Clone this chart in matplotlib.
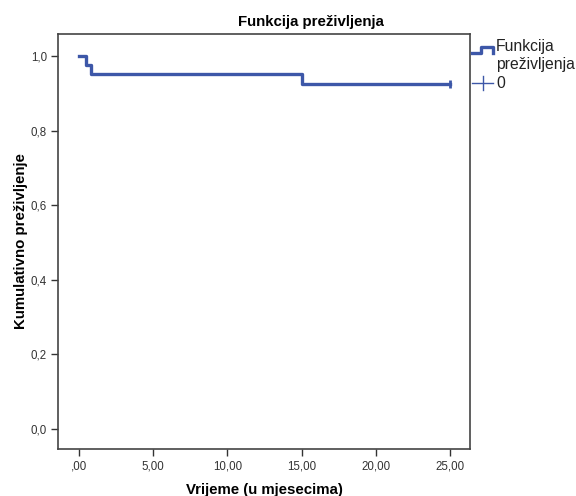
import matplotlib
matplotlib.use('Agg')
import matplotlib.pyplot as plt

plt.rcParams['font.family'] = ['Liberation Sans', 'DejaVu Sans']

# Kaplan-Meier step data
times = [0.0, 0.5, 0.8, 15.0, 25.0]
surv = [1.0, 0.976, 0.952, 0.926, 0.926]
censor_t = [25.0]
censor_s = [0.926]

xticks = [0, 5, 10, 15, 20, 25]
xtick_labels = [',00', '5,00', '10,00', '15,00', '20,00', '25,00']
yticks = [0.0, 0.2, 0.4, 0.6, 0.8, 1.0]
ytick_labels = ['0,0', '0,2', '0,4', '0,6', '0,8', '1,0']

blue = '#3d57a8'

fig = plt.figure(figsize=(5.76, 4.96), dpi=100)
ax = fig.add_axes([58 / 576, 1 - 449 / 496, 412 / 576, 415 / 496])

ax.step(times, surv, where='post', color=blue, linewidth=2.4)
ax.plot(censor_t, censor_s, marker='|', markersize=6, mew=2, color=blue, linestyle='none')

ax.set_xlim(-1.42, 26.35)
ax.set_ylim(-0.054, 1.059)
ax.set_xticks(xticks)
ax.set_xticklabels(xtick_labels)
ax.set_yticks(yticks)
ax.set_yticklabels(ytick_labels)
ax.tick_params(labelsize=8.3, colors='#333333', length=5, width=1, pad=3)
for s in ax.spines.values():
    s.set_color('#444444')
    s.set_linewidth(1.2)

ax.set_xlabel('Vrijeme (u mjesecima)', fontsize=10.8, fontweight='bold', labelpad=8)
ax.set_ylabel('Kumulativno preživljenje', fontsize=10.8, fontweight='bold', labelpad=2)
fig.text(311 / 576, 1 - 22 / 496, 'Funkcija preživljenja', ha='center', va='center',
         fontsize=10.8, fontweight='bold')

# legend drawn by hand, to the right of the axes
def fx(px):
    return px / 576

def fy(py):
    return 1 - py / 496

fig.add_artist(plt.Line2D([fx(472), fx(481), fx(481), fx(493), fx(493)],
                          [fy(53), fy(53), fy(47), fy(47), fy(53)],
                          color=blue, linewidth=2.4))
fig.text(fx(496), fy(46), 'Funkcija', fontsize=11.3, va='center', color='#222222')
fig.text(fx(496), fy(64), 'preživljenja', fontsize=11.3, va='center', color='#222222')
fig.add_artist(plt.Line2D([fx(472), fx(493)], [fy(83), fy(83)], color=blue, linewidth=1))
fig.add_artist(plt.Line2D([fx(482.5), fx(482.5)], [fy(76), fy(90)], color=blue, linewidth=1))
fig.text(fx(496), fy(83), '0', fontsize=11.3, va='center', color='#222222')

fig.savefig('out.png', dpi=100)
